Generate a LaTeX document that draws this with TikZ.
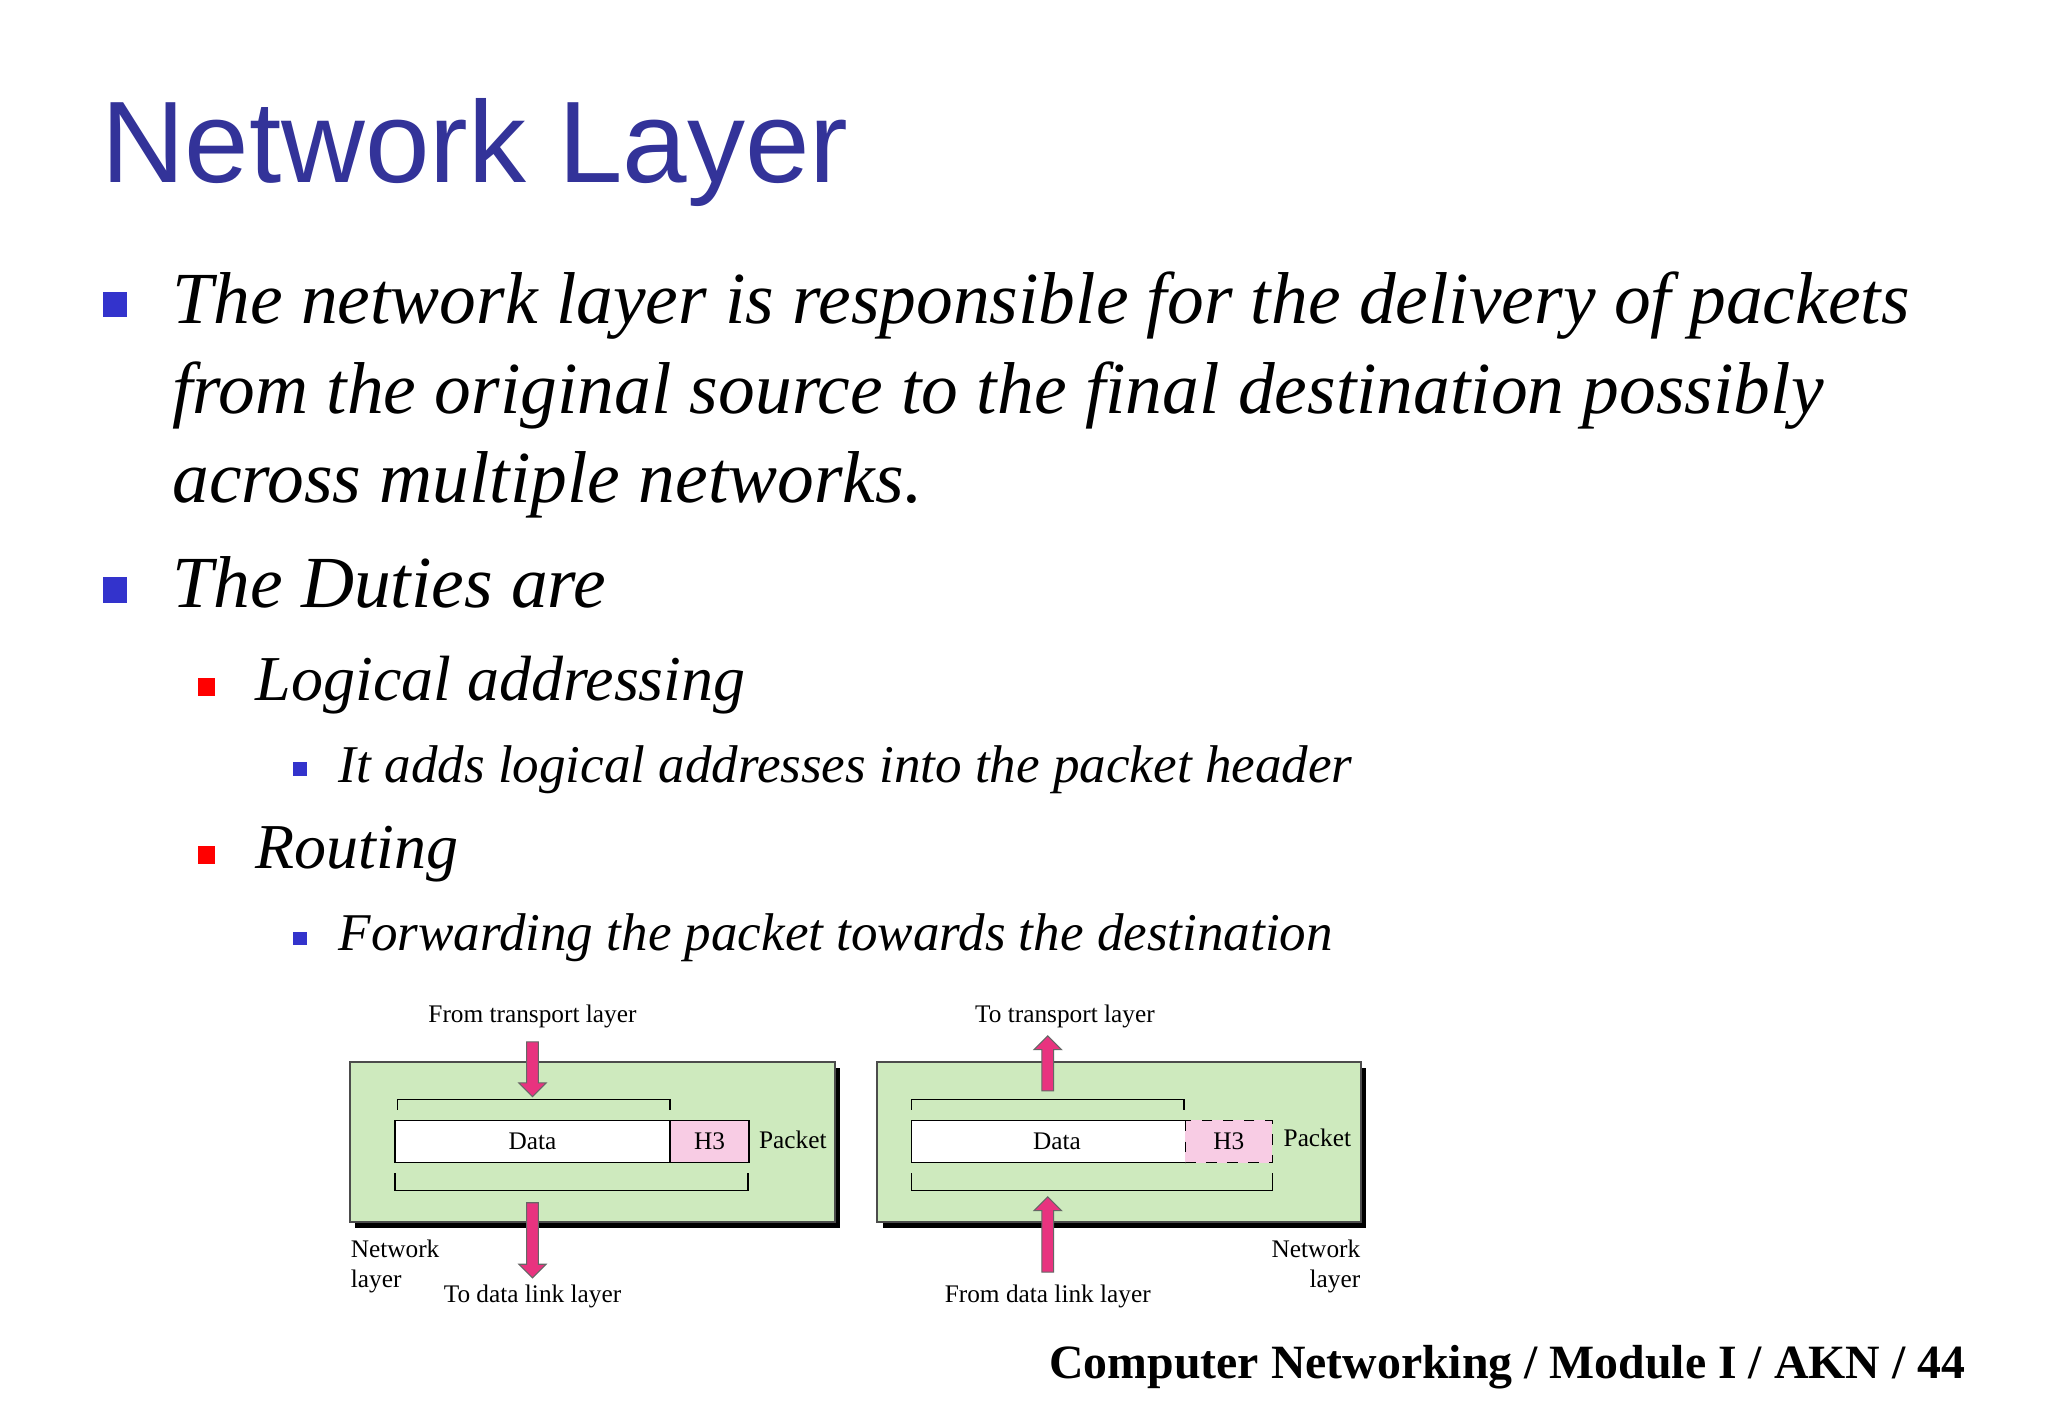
\documentclass[tikz,border=0pt]{standalone}
\usepackage{fontspec}
\setmainfont{Liberation Serif}
\newfontfamily\titlefont{Liberation Sans}
\usetikzlibrary{shapes.arrows}
\definecolor{slideblue}{RGB}{51,51,153}
\definecolor{bulletblue}{RGB}{51,51,204}
\definecolor{layergreen}{RGB}{206,234,190}
\definecolor{hdrpink}{RGB}{248,204,228}
\definecolor{arrowpink}{RGB}{232,51,127}
\tikzset{
  lbl/.style={font=\fontsize{7.2}{8.5}\selectfont},
  layerbox/.style={draw=black!70,fill=layergreen,line width=0.5pt},
  shadow/.style={fill=black},
  fatarrow/.style={single arrow,draw=black!60,fill=arrowpink,line width=0.3pt,
    minimum height=15.6pt,minimum width=7.8pt,single arrow head extend=2.2pt,inner sep=1.5pt},
  longarrow/.style={fatarrow,minimum height=21.4pt},
  bul/.style={fill=bulletblue}
}
\begin{document}
\begin{tikzpicture}[x=0.013213cm,y=-0.013213cm]
\useasboundingbox (0,0) rectangle (1550,1073);
\fill[white] (0,0) rectangle (1550,1073);
% title
\node[anchor=base west,inner sep=0pt,text=slideblue,font=\titlefont\fontsize{33}{36}\selectfont] (title) at (76,138) {Network Layer};
% bullets
\fill[bul] (78,221) rectangle (96,240);
\node[anchor=base west,inner sep=0pt,font=\itshape\fontsize{20.9}{22}\selectfont] (p1) at (130,245) {The network layer is responsible for the delivery of packets};
\node[anchor=base west,inner sep=0pt,font=\itshape\fontsize{20.9}{22}\selectfont] (p2) at (130,313) {from the original source to the final destination possibly};
\node[anchor=base west,inner sep=0pt,font=\itshape\fontsize{20.9}{22}\selectfont] (p3) at (130,380) {across multiple networks.};
\fill[bul] (78,437) rectangle (96,456);
\node[anchor=base west,inner sep=0pt,font=\itshape\fontsize{20.9}{22}\selectfont] (duties) at (130,460) {The Duties are};
\fill[red] (150,513) rectangle (163,527);
\node[anchor=base west,inner sep=0pt,font=\itshape\fontsize{18.2}{20}\selectfont] (logical) at (193,530) {Logical addressing};
\fill[bul] (222,577) rectangle (232,587);
\node[anchor=base west,inner sep=0pt,font=\itshape\fontsize{15.1}{16}\selectfont] (adds) at (256,592) {It adds logical addresses into the packet header};
\fill[red] (150,640) rectangle (163,654);
\node[anchor=base west,inner sep=0pt,font=\itshape\fontsize{18.2}{20}\selectfont] (routing) at (193,657) {Routing};
\fill[bul] (222,705) rectangle (232,715);
\node[anchor=base west,inner sep=0pt,font=\itshape\fontsize{15.1}{16}\selectfont] (fwd) at (256,719) {Forwarding the packet towards the destination};
% left layer (sender)
\fill[shadow] (269,808) rectangle (636,929);
\draw[layerbox] (265,804) rectangle (632,925);
\draw[fill=white] (299,848) rectangle (507,880);
\draw[fill=hdrpink] (507,848) rectangle (567,880);
\node[lbl] (dataL) at (403,864) {Data};
\node[lbl] (hL) at (537,864) {H3};
\node[lbl,anchor=west,inner sep=0pt] (pktL) at (574,863) {Packet};
\draw (301,840) -- (301,832) -- (507,832) -- (507,840);
\draw (299,888) -- (299,901) -- (566,901) -- (566,888);
\node[lbl] (fromT) at (403,769) {From transport layer};
\node[fatarrow,rotate=-90] (arrL1) at (403,807) {};
\node[longarrow,rotate=-90] (arrL2) at (403,936.5) {};
\node[lbl] (toD) at (403,981) {To data link layer};
\node[lbl,anchor=north west,inner sep=0pt,align=left] (netL) at (265,938) {Network\\layer};
% right layer (receiver)
\fill[shadow] (668,808) rectangle (1034,929);
\draw[layerbox] (664,804) rectangle (1030,925);
\draw[fill=white] (690,848) rectangle (897,880);
\fill[hdrpink] (897,848) rectangle (963,880);
\draw[dashed] (897,848) rectangle (963,880);
\node[lbl] (dataR) at (800,864) {Data};
\node[lbl] (hR) at (930,864) {H3};
\node[lbl,anchor=west,inner sep=0pt] (pktR) at (971,861) {Packet};
\draw (690,840) -- (690,832) -- (896,832) -- (896,840);
\draw (690,888) -- (690,901) -- (963,901) -- (963,888);
\node[lbl] (toT) at (806,769) {To transport layer};
\node[fatarrow,rotate=90] (arrR1) at (793,807) {};
\node[longarrow,rotate=90] (arrR2) at (793,936.5) {};
\node[lbl] (fromD) at (793,981) {From data link layer};
\node[lbl,anchor=north east,inner sep=0pt,align=right] (netR) at (1030,938) {Network\\layer};
% footer
\node[anchor=base east,inner sep=0pt,font=\bfseries\fontsize{13.6}{15}\selectfont] (foot) at (1488,1043) {Computer Networking / Module I / AKN / 44};
\end{tikzpicture}
\end{document}
